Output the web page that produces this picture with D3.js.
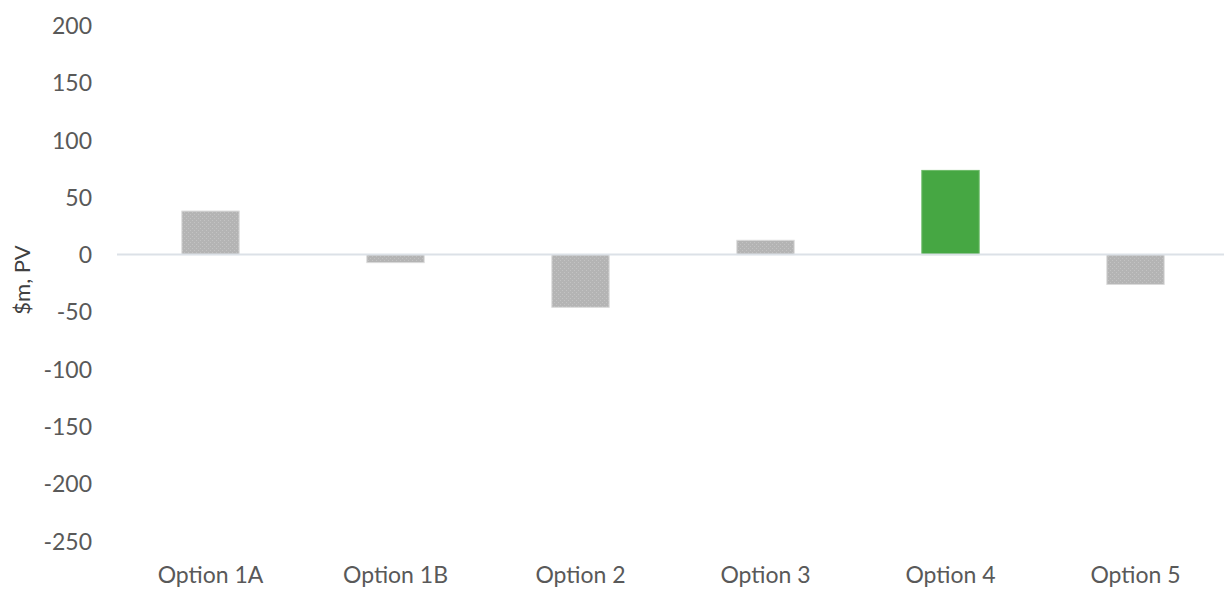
<!DOCTYPE html>
<html>
<head>
<meta charset="utf-8">
<script src="https://cdn.jsdelivr.net/npm/d3@7"></script>
<style>
  html, body { margin: 0; padding: 0; background: #ffffff; }
  svg { display: block; }
</style>
</head>
<body>
<svg id="chart" width="1224" height="589"></svg>
<script>
// Net value of each option, $m present value
const categories = ["Option 1A", "Option 1B", "Option 2", "Option 3", "Option 4", "Option 5"];
const values = [38, -7, -46, 12.5, 73.5, -26];
const highlighted = ["Option 4"];
const yTicks = [200, 150, 100, 50, 0, -50, -100, -150, -200, -250];
const yTitle = "$m, PV";

const svg = d3.select("#chart");
const font = "Lato, 'Open Sans', sans-serif";

const x = d3.scaleBand()
  .domain(categories)
  .range([118, 1228])
  .paddingInner(0.69)
  .paddingOuter(0.345)
  .align(0.5);

const y = d3.scaleLinear()
  .domain([-250, 200])
  .range([541, 25.5]);

// Dotted fill for the neutral bars
const defs = svg.append("defs");
const pat = defs.append("pattern")
  .attr("id", "dots")
  .attr("patternUnits", "userSpaceOnUse")
  .attr("width", 4).attr("height", 4);
pat.append("rect").attr("width", 4).attr("height", 4).attr("fill", "#b4b4b4");
pat.append("rect").attr("x", 0).attr("y", 0).attr("width", 1).attr("height", 1).attr("fill", "#c3c3c3");
pat.append("rect").attr("x", 2).attr("y", 2).attr("width", 1).attr("height", 1).attr("fill", "#c3c3c3");

// Y axis labels (no line, no ticks), plain hyphen for negatives
const yAxis = d3.axisLeft(y).tickValues(yTicks).tickFormat(d => String(d)).tickSize(0).tickPadding(0);
const gy = svg.append("g").attr("transform", "translate(92,0)").call(yAxis);
gy.select(".domain").remove();
gy.selectAll("text")
  .attr("font-family", font)
  .attr("font-size", 23)
  .attr("fill", "#595959")
  .attr("dy", "0.35em");

// Bars
const data = categories.map((c, i) => ({ c, v: values[i] }));
svg.append("g").selectAll("rect")
  .data(data)
  .join("rect")
  .attr("x", d => x(d.c))
  .attr("width", x.bandwidth())
  .attr("y", d => y(Math.max(0, d.v)))
  .attr("height", d => Math.abs(y(d.v) - y(0)))
  .attr("fill", d => highlighted.includes(d.c) ? "#46a743" : "url(#dots)")
  .attr("stroke", d => highlighted.includes(d.c) ? "#6cbb69" : "#dadada")
  .attr("stroke-width", 1);

// Zero line
svg.append("line")
  .attr("x1", x.range()[0] - 1)
  .attr("x2", x.range()[1])
  .attr("y1", y(0))
  .attr("y2", y(0))
  .attr("stroke", "#dce1e7")
  .attr("stroke-width", 2);

// Category labels along the bottom
const xAxis = d3.axisBottom(x).tickSize(0).tickPadding(0);
const gx = svg.append("g").attr("transform", "translate(0,575)").call(xAxis);
gx.select(".domain").remove();
gx.selectAll("text")
  .attr("font-family", font)
  .attr("font-size", 23)
  .attr("fill", "#595959")
  .attr("dy", "0.35em");

// Y axis title
svg.append("text")
  .attr("transform", "translate(22,280) rotate(-90)")
  .attr("text-anchor", "middle")
  .attr("dy", "0.35em")
  .attr("font-family", font)
  .attr("font-size", 22)
  .attr("fill", "#404040")
  .text(yTitle);
</script>
</body>
</html>
